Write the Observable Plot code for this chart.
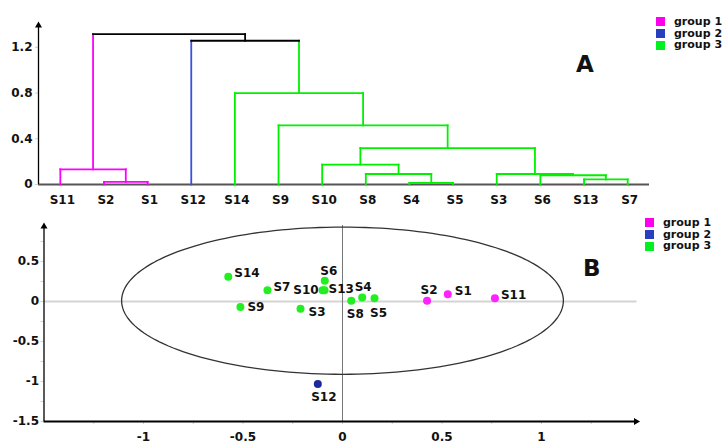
<!DOCTYPE html>
<html>
<head>
<meta charset="utf-8">
<script src="https://cdn.jsdelivr.net/npm/d3@7"></script>
<script src="https://cdn.jsdelivr.net/npm/@observablehq/plot@0.6"></script>
<style>
  body { margin: 0; background: #fff; }
  #fig { position: relative; width: 727px; height: 444px; font-family: "DejaVu Sans", sans-serif; color: #111; }
  #fig svg { position: absolute; left: 0; }
  .legend { position: absolute; font-weight: bold; font-size: 11px; line-height: 12px; }
  .legend div { display: flex; align-items: center; white-space: nowrap; height: 11.7px; }
  .legend span.sw { display: inline-block; width: 9px; height: 9px; margin-right: 9px; }
  .tag { position: absolute; font-weight: bold; font-size: 23px; line-height: 23px; }
</style>
</head>
<body>
<div id="fig"></div>
<script>
// ---- Hierarchical clustering (panel A) ----
const leaves = ["S11","S2","S1","S12","S14","S9","S10","S8","S4","S5","S3","S6","S13","S7"];
const leafGroup = [1,1,1,2,3,3,3,3,3,3,3,3,3,3];
// Each merge joins two members: a leaf name or an earlier merge "N1".."N13"
const mergeLeft   = ["S2","S11","S4","S8","S10","S13","S6","S3","N5","S9","S14","S12","N2"];
const mergeRight  = ["S1","N1","S5","N3","N4","S7","N6","N7","N8","N9","N10","N11","N12"];
const mergeHeight = [0.023,0.133,0.014,0.092,0.174,0.044,0.081,0.092,0.319,0.517,0.799,1.258,1.316];
const heightTicks = [0, 0.4, 0.8, 1.2];

// ---- Score plot (panel B) ----
const sampleNames = ["S1","S2","S3","S4","S5","S6","S7","S8","S9","S10","S11","S12","S13","S14"];
const scoreX = [0.529,0.425,-0.211,0.099,0.161,-0.089,-0.377,0.044,-0.513,-0.100,0.766,-0.124,-0.090,-0.574];
const scoreY = [0.09,0.01,-0.09,0.05,0.04,0.26,0.14,0.01,-0.07,0.14,0.04,-1.03,0.14,0.31];
const sampleGroup = [1,1,3,3,3,3,3,3,3,3,1,2,3,3];
const xTicksB = [-1, -0.5, 0, 0.5, 1];
const yTicksB = [-1.5, -1, -0.5, 0, 0.5];
// confidence ellipse: centre and semi-axes
const ellipseCenter = [0, 0.01];
const ellipseRadii = [1.11, 0.92];

const groupNames = ["group 1", "group 2", "group 3"];
const lineColor = {0: "#000000", 1: "#ff00ff", 2: "#3a50e0", 3: "#00f000"};
const dotColor = {1: "#ff22ff", 2: "#1c2a9c", 3: "#22ee22"};
const legendColor = {1: "#ff00ee", 2: "#2840c0", 3: "#00f020"};

const fig = document.getElementById("fig");
const baseStyle = {fontFamily: "DejaVu Sans, sans-serif", fontSize: "12px", fontWeight: "bold", background: "transparent", overflow: "visible"};

// Build the elbow segments of the dendrogram from the linkage
const nodes = new Map(leaves.map((s, i) => [s, {x: i, h: 0, g: leafGroup[i]}]));
const segs = [];
mergeLeft.forEach((a, k) => {
  const A = nodes.get(a), B = nodes.get(mergeRight[k]), h = mergeHeight[k];
  const g = A.g === B.g ? A.g : 0;
  segs.push({x1: A.x, y1: A.h, x2: A.x, y2: h, c: lineColor[A.g]});
  segs.push({x1: B.x, y1: B.h, x2: B.x, y2: h, c: lineColor[B.g]});
  segs.push({x1: A.x, y1: h, x2: B.x, y2: h, c: lineColor[g]});
  nodes.set("N" + (k + 1), {x: (A.x + B.x) / 2, h, g});
});

const xDomA = [-0.5, leaves.length - 0.5];
const yDomA = [0, 1.4];

const plotA = Plot.plot({
  width: 727, height: 212,
  marginLeft: 38, marginRight: 78, marginTop: 24, marginBottom: 28,
  style: baseStyle,
  color: {type: "identity"},
  x: {domain: xDomA, axis: null},
  y: {domain: yDomA, axis: null},
  marks: [
    Plot.axisY({ticks: heightTicks, tickSize: 3, tickPadding: 3, stroke: "#cfcfcf", fill: "#111", label: null, tickFormat: d => String(d)}),
    Plot.axisX({ticks: d3.range(leaves.length), tickSize: 0, tickPadding: 11, fill: "#111", label: null, tickFormat: i => leaves[i], dx: 2}),
    Plot.ruleY([0], {x1: xDomA[0], x2: xDomA[1], stroke: "#555", strokeWidth: 2}),
    Plot.link(segs, {x1: "x1", y1: "y1", x2: "x2", y2: "y2", stroke: "c", strokeWidth: 1.8, strokeLinecap: "square"}),
    Plot.ruleX([xDomA[0]], {y1: yDomA[0], y2: yDomA[1], stroke: "#000", strokeWidth: 1.3}),
    Plot.dot([[xDomA[0], yDomA[1]]], {x: d => d[0], y: d => d[1], symbol: "triangle", r: 2.6, fill: "#000", stroke: null, dy: 1})
  ]
});
plotA.style.top = "0px";
fig.appendChild(plotA);

// ---- Panel B ----
const pts = sampleNames.map((n, i) => ({name: n, x: scoreX[i], y: scoreY[i], g: sampleGroup[i]}));
const ellipse = d3.range(0, 361, 2).map(a => {
  const t = a * Math.PI / 180;
  return {x: ellipseCenter[0] + ellipseRadii[0] * Math.cos(t), y: ellipseCenter[1] + ellipseRadii[1] * Math.sin(t)};
});
const xDomB = [-1.5, 1.48];
const yDomB = [-1.5, 0.95];

// label placement around each point
const place = {
  S14: {textAnchor: "start", dx: 6, dy: -4},
  S7:  {textAnchor: "start", dx: 6, dy: -3},
  S9:  {textAnchor: "start", dx: 7, dy: 0},
  S3:  {textAnchor: "start", dx: 8, dy: 3},
  S6:  {textAnchor: "middle", dx: 4, dy: -10},
  S10: {textAnchor: "end", dx: -4, dy: 0},
  S13: {textAnchor: "start", dx: 4, dy: -1},
  S4:  {textAnchor: "middle", dx: 1, dy: -10},
  S8:  {textAnchor: "middle", dx: 4, dy: 13},
  S5:  {textAnchor: "middle", dx: 4, dy: 15},
  S2:  {textAnchor: "middle", dx: 2, dy: -11},
  S1:  {textAnchor: "start", dx: 7, dy: -3},
  S11: {textAnchor: "start", dx: 6, dy: -3},
  S12: {textAnchor: "middle", dx: 6, dy: 13}
};

const plotB = Plot.plot({
  width: 727, height: 232,
  marginLeft: 43.5, marginRight: 90.5, marginTop: 13, marginBottom: 23,
  style: baseStyle,
  color: {type: "identity"},
  x: {domain: xDomB, axis: null},
  y: {domain: yDomB, axis: null},
  marks: [
    Plot.ruleY([0], {stroke: "#d4d4d4", strokeWidth: 2}),
    Plot.ruleX([0], {stroke: "#777", strokeWidth: 1}),
    Plot.axisY({ticks: d3.range(-1.5, 0.95, 0.25), tickSize: 3, stroke: "#d0d0d0", text: null, label: null}),
    Plot.axisY({ticks: yTicksB, tickSize: 0, tickPadding: 5, fill: "#111", label: null, tickFormat: d => String(d)}),
    Plot.axisX({ticks: d3.range(-1.25, 1.49, 0.25), tickSize: 3, stroke: "#d0d0d0", text: null, label: null}),
    Plot.axisX({ticks: xTicksB, tickSize: 0, tickPadding: 11, fill: "#111", label: null, tickFormat: d => String(d)}),
    Plot.line(ellipse, {x: "x", y: "y", stroke: "#333", strokeWidth: 1.3}),
    Plot.ruleX([xDomB[0]], {stroke: "#000", strokeWidth: 1.3}),
    Plot.ruleY([yDomB[0]], {stroke: "#000", strokeWidth: 2}),
    Plot.dot([[xDomB[0], yDomB[1]]], {x: d => d[0], y: d => d[1], symbol: "triangle", r: 2.6, fill: "#000", stroke: null, dy: 1}),
    Plot.dot([[xDomB[1], yDomB[0]]], {x: d => d[0], y: d => d[1], symbol: "triangle", r: 2.6, fill: "#000", stroke: null, rotate: 90, dx: -1}),
    Plot.dot(pts, {x: "x", y: "y", r: 4, fill: d => dotColor[d.g], stroke: null}),
    ...pts.map(p => Plot.text([p], {x: "x", y: "y", text: "name", fill: "#111", ...place[p.name]}))
  ]
});
plotB.style.top = "212px";
fig.appendChild(plotB);

// Legends and panel tags
function legend(left, top) {
  const el = document.createElement("div");
  el.className = "legend";
  el.style.left = left + "px";
  el.style.top = top + "px";
  groupNames.forEach((name, i) => {
    const row = document.createElement("div");
    row.innerHTML = `<span class="sw" style="background:${legendColor[i + 1]}"></span>${name}`;
    el.appendChild(row);
  });
  fig.appendChild(el);
}
legend(656, 16);
legend(645, 217);

function tag(text, left, top) {
  const el = document.createElement("div");
  el.className = "tag";
  el.style.left = left + "px";
  el.style.top = top + "px";
  el.textContent = text;
  fig.appendChild(el);
}
tag("A", 576, 53);
tag("B", 583, 257);
</script>
</body>
</html>
